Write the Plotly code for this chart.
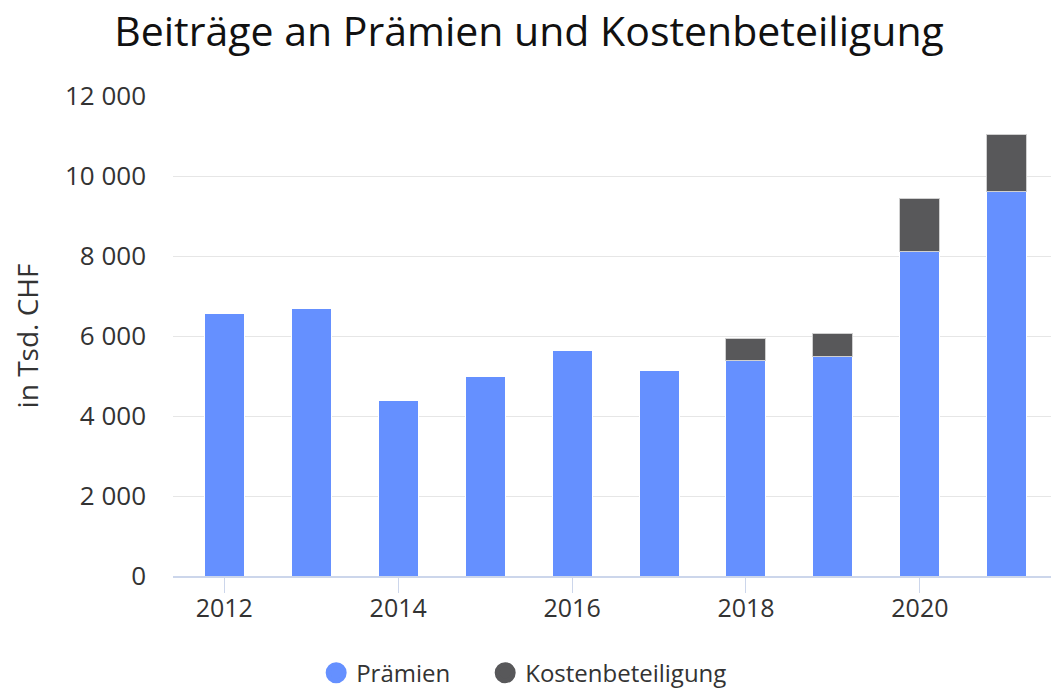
import plotly.graph_objects as go

years = [2012, 2013, 2014, 2015, 2016, 2017, 2018, 2019, 2020, 2021]
praemien = [6570, 6700, 4400, 4990, 5650, 5150, 5390, 5490, 8120, 9620]
kostenbeteiligung = [None, None, None, None, None, None, 540, 580, 1310, 1420]

title_text = "Beiträge an Prämien und Kostenbeteiligung"
y_title = "in Tsd. CHF"
series_names = ["Prämien", "Kostenbeteiligung"]
colors = ["#6590ff", "#58585a"]
x_ticks = [2012, 2014, 2016, 2018, 2020]
y_ticks = [0, 2000, 4000, 6000, 8000, 10000, 12000]

FONT = "'Open Sans', Lato, sans-serif"

fig = go.Figure()
fig.add_trace(go.Bar(x=years, y=praemien, name=series_names[0],
                     marker=dict(color=colors[0], line=dict(color="#ffffff", width=1)),
                     showlegend=False))
fig.add_trace(go.Bar(x=years, y=kostenbeteiligung, name=series_names[1],
                     marker=dict(color=colors[1], line=dict(color="#d0d0d0", width=1)),
                     showlegend=False))
# legend entries with circular markers (one legend box per series)
for n, c, lg in zip(series_names, colors, ["legend", "legend2"]):
    fig.add_trace(go.Scatter(x=[None], y=[None], mode="markers", name=n, legend=lg,
                             marker=dict(symbol="circle", size=16, color=c,
                                         line=dict(color=c, width=5))))

legend_common = dict(orientation="h", xanchor="left", xref="container",
                     y=0.036, yanchor="middle", yref="container",
                     font=dict(size=24, color="#333333"), itemsizing="trace")

fig.update_layout(
    width=1059, height=690,
    barmode="stack",
    bargap=0.54,
    separators=". ",
    paper_bgcolor="#ffffff",
    plot_bgcolor="#ffffff",
    font=dict(family=FONT, color="#333333", size=25),
    title=dict(text=title_text, x=0.492, xanchor="center", xref="container",
               y=0.966, yanchor="middle", yref="container", automargin=False,
               font=dict(family=FONT, size=41, color="#111111", weight=500)),
    margin=dict(l=165, r=8, t=88, b=122, autoexpand=False),
    legend=dict(x=0.291, **legend_common),
    legend2=dict(x=0.4506, **legend_common),
    xaxis=dict(range=[2011.41, 2021.6], tickmode="array", tickvals=x_ticks,
               showgrid=False, showline=True, linecolor="#ccd6eb", linewidth=2,
               ticks="outside", ticklen=15, tickcolor="#ccd6eb", tickwidth=1,
               tickangle=0, automargin=False, ticklabelstandoff=-6,
               tickfont=dict(size=25, color="#333333"), zeroline=False),
    yaxis=dict(range=[0, 12000], tickmode="array", tickvals=y_ticks,
               tickformat=",d", showgrid=True, gridcolor="#e6e6e6", gridwidth=1,
               zeroline=False, ticks="", ticklabelstandoff=26, automargin=False,
               tickfont=dict(size=26, color="#333333"),
               title=dict(text=y_title, standoff=27, font=dict(size=28, color="#333333"))),
)

fig.write_html("out.html")
